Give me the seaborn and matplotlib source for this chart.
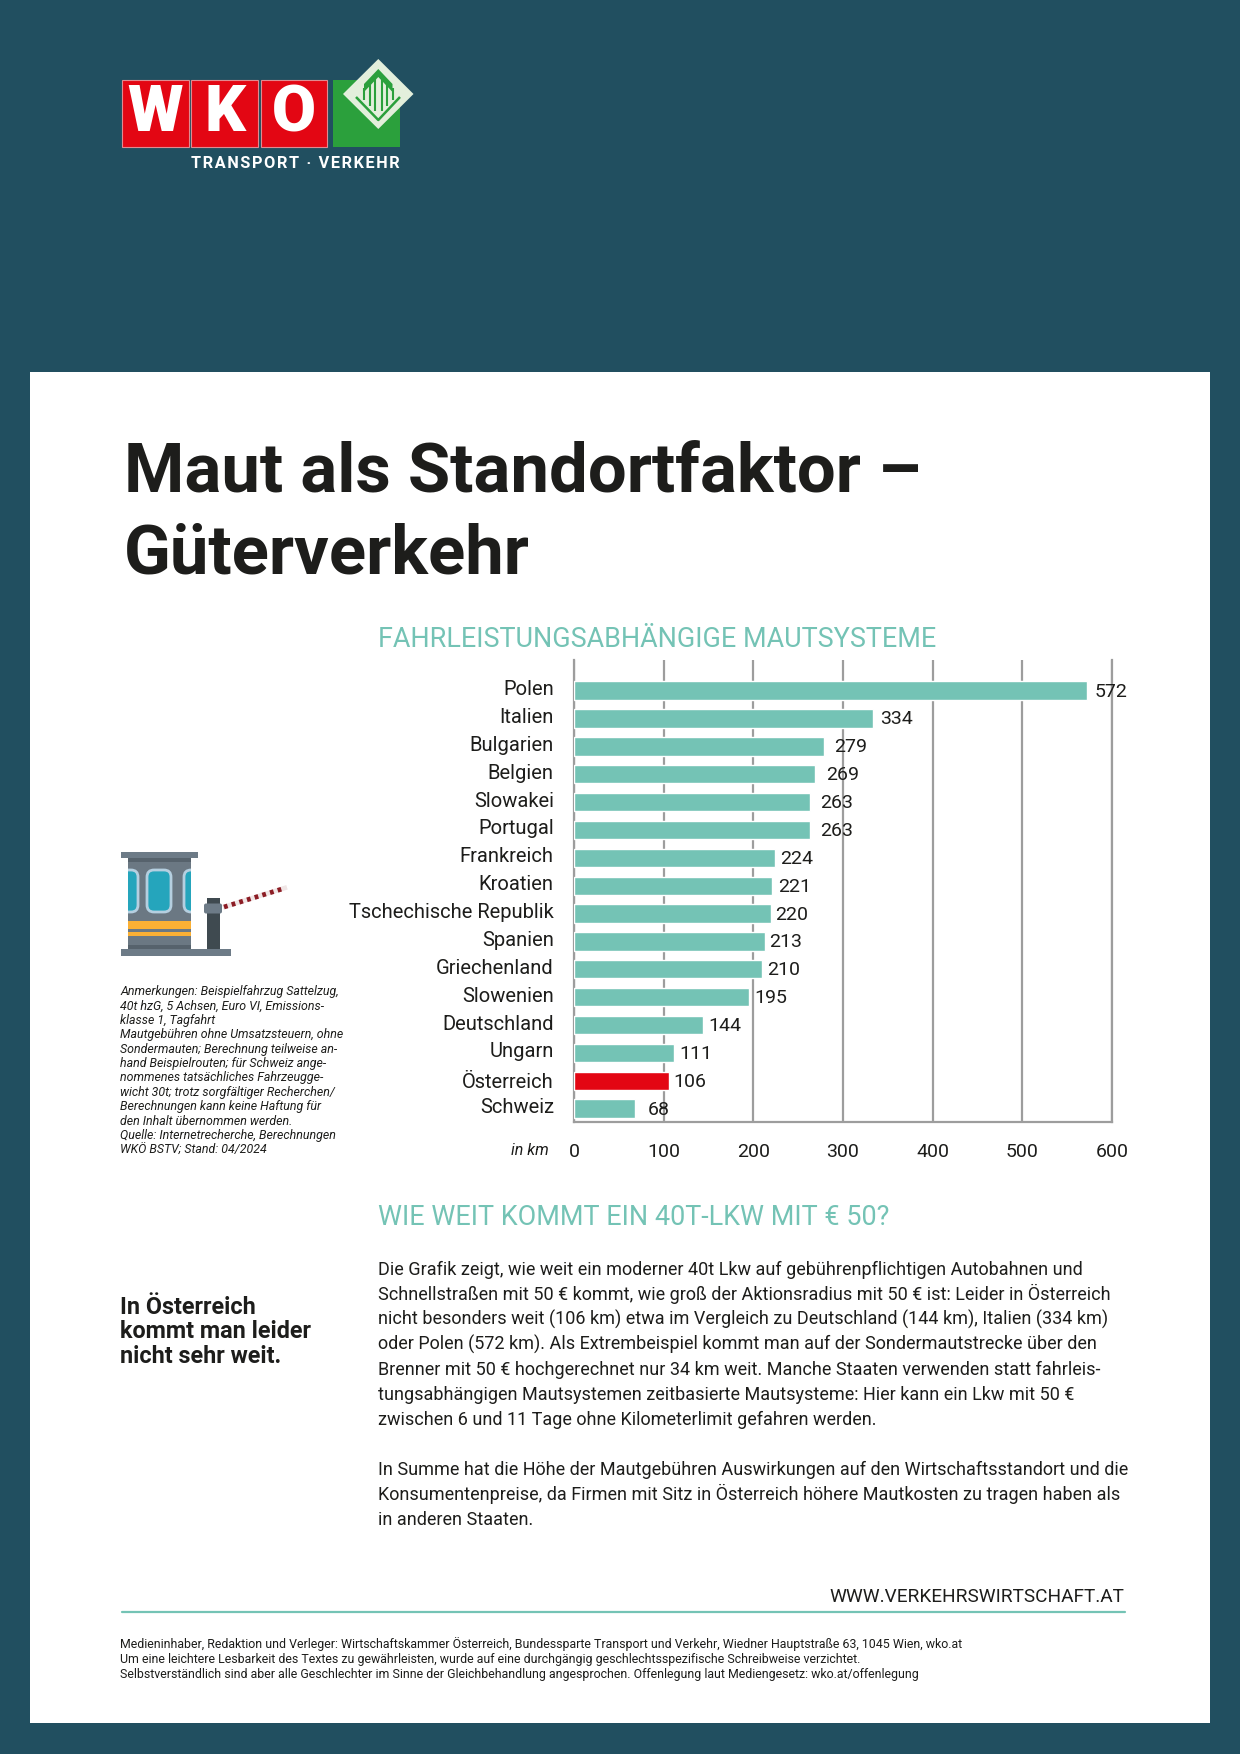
import matplotlib
matplotlib.use("Agg")
import matplotlib.pyplot as plt
import matplotlib.patches as mp
import matplotlib.transforms as mt
import pandas as pd
import seaborn as sns

laender = ["Polen", "Italien", "Bulgarien", "Belgien", "Slowakei", "Portugal", "Frankreich", "Kroatien",
           "Tschechische Republik", "Spanien", "Griechenland", "Slowenien", "Deutschland", "Ungarn",
           "Österreich", "Schweiz"]
km = [572, 334, 279, 269, 263, 263, 224, 221, 220, 213, 210, 195, 144, 111, 106, 68]
x_ticks = [0, 100, 200, 300, 400, 500, 600]

titel = ["Maut als Standortfaktor –", "Güterverkehr"]
anmerkungen = [
    "Anmerkungen: Beispielfahrzug Sattelzug,",
    "40t hzG, 5 Achsen, Euro VI, Emissions-",
    "klasse 1, Tagfahrt",
    "Mautgebühren ohne Umsatzsteuern, ohne",
    "Sondermauten; Berechnung teilweise an-",
    "hand Beispielrouten; für Schweiz ange-",
    "nommenes tatsächliches Fahrzeugge-",
    "wicht 30t; trotz sorgfältiger Recherchen/",
    "Berechnungen kann keine Haftung für",
    "den Inhalt übernommen werden.",
    "Quelle: Internetrecherche, Berechnungen",
    "WKÖ BSTV; Stand: 04/2024",
]
absatz1 = [
    "Die Grafik zeigt, wie weit ein moderner 40t Lkw auf gebührenpflichtigen Autobahnen und",
    "Schnellstraßen mit 50 € kommt, wie groß der Aktionsradius mit 50 € ist: Leider in Österreich",
    "nicht besonders weit (106 km) etwa im Vergleich zu Deutschland (144 km), Italien (334 km)",
    "oder Polen (572 km). Als Extrembeispiel kommt man auf der Sondermautstrecke über den",
    "Brenner mit 50 € hochgerechnet nur 34 km weit. Manche Staaten verwenden statt fahrleis-",
    "tungsabhängigen Mautsystemen zeitbasierte Mautsysteme: Hier kann ein Lkw mit 50 €",
    "zwischen 6 und 11 Tage ohne Kilometerlimit gefahren werden.",
]
absatz2 = [
    "In Summe hat die Höhe der Mautgebühren Auswirkungen auf den Wirtschaftsstandort und die",
    "Konsumentenpreise, da Firmen mit Sitz in Österreich höhere Mautkosten zu tragen haben als",
    "in anderen Staaten.",
]
fuss = [
    "Medieninhaber, Redaktion und Verleger: Wirtschaftskammer Österreich, Bundessparte Transport und Verkehr, Wiedner Hauptstraße 63, 1045 Wien, wko.at",
    "Um eine leichtere Lesbarkeit des Textes zu gewährleisten, wurde auf eine durchgängig geschlechtsspezifische Schreibweise verzichtet.",
    "Selbstverständlich sind aber alle Geschlechter im Sinne der Gleichbehandlung angesprochen. Offenlegung laut Mediengesetz: wko.at/offenlegung",
]

# gap between bar end and its number, the original is not regular
label_gap = [8, 7, 10, 11, 10, 10, 5, 6, 4, 4, 5, 5, 5, 6, 4, 13]

BG = "#214f60"
TEAL = "#74c3b5"
RED = "#e30613"
GREEN = "#2ba03c"
LIGHT = "#e3efdc"
INK = "#1d1d1b"
GRID = "#9d9d9d"

sns.set_theme(style="white")
plt.rcParams["font.family"] = ["Roboto", "DejaVu Sans"]

W, H = 1240, 1754
fig = plt.figure(figsize=(W / 100, H / 100), dpi=100, facecolor=BG)

# page layer, works in pixels of the sheet
pg = fig.add_axes([0, 0, 1, 1], zorder=0)
pg.set_xlim(0, W)
pg.set_ylim(H, 0)
pg.axis("off")


def box(x0, y0, x1, y1, color, **kw):
    pg.add_patch(mp.Rectangle((x0, y0), x1 - x0, y1 - y0, fc=color, ec="none", **kw))


def txt(x, y, s, size, color=INK, **kw):
    pg.text(x, y, s, fontsize=size, color=color, va="baseline", **kw)


box(30, 372, 1210, 1723, "white")

# logo
for (x0, x1), letter in zip([(122, 189), (191, 258), (261, 327)], "WKO"):
    pg.add_patch(mp.Rectangle((x0, 80), x1 - x0, 66.5, fc=RED, ec="#e08a90", lw=0.8))
    pg.text((x0 + x1) / 2, 113, letter, fontsize=46, fontweight="black", color="white",
            ha="center", va="center")
box(333, 80, 400, 146.5, GREEN)
pg.add_patch(mp.Polygon([(378.3, 59), (413.5, 94), (378.3, 129), (343, 94)], fc=LIGHT, ec="none"))
pg.plot([356, 378.3, 400], [97, 120, 97], color=GREEN, lw=1.8, solid_capstyle="butt")
pg.add_patch(mp.Polygon([(364, 84), (378.3, 69), (392.5, 84), (392.5, 92), (378.3, 77), (364, 92)], fc=GREEN, ec="none"))
for xs, ys in [((364, 364), (88, 100)), ((370, 370), (84, 106)), ((375, 375), (78, 111)),
               ((382, 382), (78, 111)), ((387, 387), (84, 106)), ((392.5, 392.5), (88, 100))]:
    pg.plot(xs, ys, color=GREEN, lw=1.5, solid_capstyle="butt")
txt(191, 168, "\u200a".join("TRANSPORT · VERKEHR"), 11.7, color="white", fontweight="bold")

# title
txt(124, 492, titel[0], 49.6, fontweight="bold")
txt(124, 573, titel[1], 49.6, fontweight="bold")

txt(378, 647, "FAHRLEISTUNGSABHÄNGIGE MAUTSYSTEME", 19.45, color=TEAL)
txt(378, 1225, "WIE WEIT KOMMT EIN 40T-LKW MIT € 50?", 19.45, color=TEAL)

# toll booth icon
box(128, 858, 190.5, 949, "#6b7883")
box(128, 858, 190.5, 862, "#56626c")
box(128, 945, 190.5, 949, "#56626c")
box(120.5, 852, 197.5, 858, "#6d7b87")
rahmen = mp.Rectangle((128, 858), 62.5, 91, transform=pg.transData)
for x0, x1 in [(116, 138), (147, 171), (184, 205)]:
    fenster = mp.FancyBboxPatch((x0 + 3, 873), x1 - x0 - 6, 36, boxstyle="round,pad=3,rounding_size=7",
                                fc="#25a5bc", ec="#b5cfe0", lw=2)
    pg.add_patch(fenster)
    fenster.set_clip_path(rahmen)
box(128, 921, 190.5, 929, "#fbb034")
box(128, 932, 190.5, 936, "#fbb034")
box(120.5, 949, 230.5, 955.5, "#6d7b87")
box(206.5, 898, 220, 949, "#3f4a50")
pg.add_patch(mp.FancyBboxPatch((204.5, 904), 17, 9, boxstyle="round,pad=0.5,rounding_size=2", fc="#6d7b87", ec="none"))
pg.plot([223, 287], [907.3, 887.3], color="#f0e6e6", lw=3.4, solid_capstyle="butt")
pg.plot([224, 282], [907, 889], color="#8c1c24", lw=3.4, dashes=(0.8, 0.9))

for i, zeile in enumerate(anmerkungen):
    txt(120, 995 + i * 14.4, zeile, 8.9, fontstyle="italic")

for i, zeile in enumerate(["In Österreich", "kommt man leider", "nicht sehr weit."]):
    txt(120, 1314 + i * 24.5, zeile, 16.85, fontweight="bold")

for i, zeile in enumerate(absatz1):
    txt(378, 1275 + i * 25, zeile, 13)
for i, zeile in enumerate(absatz2):
    txt(378, 1475 + i * 25, zeile, 13)

txt(1124, 1602, "WWW.VERKEHRSWIRTSCHAFT.AT", 13.7, ha="right")
pg.plot([122, 1125], [1612, 1612], color=TEAL, lw=1.6)
for i, zeile in enumerate(fuss):
    txt(120, 1648 + i * 15, zeile, 8.95)

# the chart itself
df = pd.DataFrame({"land": laender, "km": km})
farben = {l: (RED if l == "Österreich" else TEAL) for l in laender}

ax_x0, ax_x1, ax_top, ax_bot = 574, 1112, 660, 1122
ax = fig.add_axes([ax_x0 / W, 1 - ax_bot / H, (ax_x1 - ax_x0) / W, (ax_bot - ax_top) / H], zorder=1)
ax.patch.set_alpha(0)
sns.barplot(data=df, x="km", y="land", hue="land", palette=farben, legend=False,
            width=0.66, saturation=1, ax=ax, zorder=3)
ax.set_xlim(0, 600)
ax.set_ylim(15.48, -1.10)
ax.set_xlabel("")
ax.set_ylabel("")
ax.set_xticks(x_ticks)
ax.grid(axis="x", color=GRID, lw=1.6, zorder=0)
ax.set_axisbelow(True)
ax.spines["top"].set_visible(False)
for s in ["left", "bottom", "right"]:
    ax.spines[s].set_color(GRID)
    ax.spines[s].set_linewidth(1.6)
ax.tick_params(axis="x", length=0, pad=15, labelsize=14, labelcolor=INK)
ax.tick_params(axis="y", length=0, pad=14.5, labelsize=14.5, labelcolor=INK)

# country names sit a little above their bars, Österreich does not
for lab in ax.get_yticklabels():
    dy = 0 if lab.get_text() == "Österreich" else 3
    lab.set_transform(lab.get_transform() + mt.ScaledTranslation(0, dy / 100, fig.dpi_scale_trans))

for i, (wert, gap) in enumerate(zip(km, label_gap)):
    ax.annotate(str(wert), (wert, i), xytext=(gap * 0.72, -0.7), textcoords="offset points",
                va="center", ha="left", fontsize=14, color=INK, zorder=5)

txt(549, 1155, "in km", 11.5, ha="right", fontstyle="italic")

fig.savefig("out.png", dpi=100, facecolor=BG)
